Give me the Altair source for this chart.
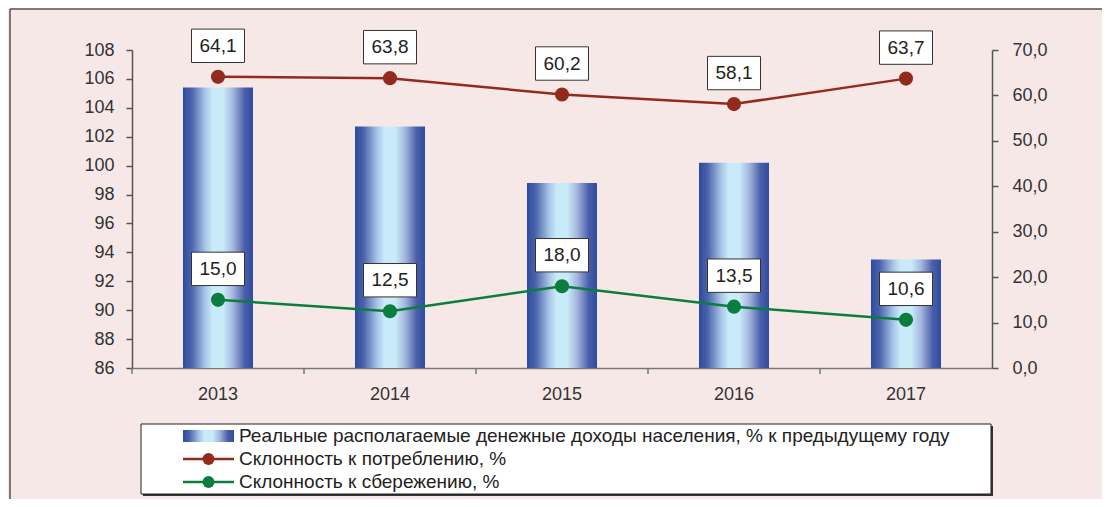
import altair as alt
import pandas as pd

years = ["2013", "2014", "2015", "2016", "2017"]
income = [105.4, 102.7, 98.8, 100.2, 93.5]
consumption = [64.1, 63.8, 60.2, 58.1, 63.7]
savings = [15.0, 12.5, 18.0, 13.5, 10.6]
legend_labels = [
    "Реальные располагаемые денежные доходы населения, % к предыдущему году",
    "Склонность к потреблению, %",
    "Склонность к сбережению, %",
]
left_ticks = list(range(86, 109, 2))
right_ticks = list(range(0, 71, 10))

def fmt(v):
    return f"{v:.1f}".replace(".", ",")

df = pd.DataFrame({"year": years, "income": income, "cons": consumption, "sav": savings})
df["cons_lbl"] = [fmt(v) for v in consumption]
df["sav_lbl"] = [fmt(v) for v in savings]
one = pd.DataFrame({"k": [0]})

W, H = 860, 318
FONT = "Liberation Sans"
RED = "#922b1e"
GREEN = "#0b7d3e"
TXT = "#333333"
AX = "#555555"

grad = alt.Gradient(
    gradient="linear", x1=0, x2=1, y1=0, y2=0,
    stops=[
        alt.GradientStop(offset=0.0, color="#2d4b9e"),
        alt.GradientStop(offset=0.12, color="#4a62aa"),
        alt.GradientStop(offset=0.32, color="#a9c6e8"),
        alt.GradientStop(offset=0.42, color="#c8eaf9"),
        alt.GradientStop(offset=0.58, color="#c8eaf9"),
        alt.GradientStop(offset=0.72, color="#a3b4dc"),
        alt.GradientStop(offset=0.88, color="#4a5fab"),
        alt.GradientStop(offset=1.0, color="#2f4c9f"),
    ],
)

xenc = alt.X(
    "year:N",
    sort=years,
    scale=alt.Scale(paddingInner=0, paddingOuter=0),
    axis=alt.Axis(title=None, labelAngle=0, ticks=False, domainColor="#777777",
                  domainWidth=1.5, labelFontSize=18, labelColor=TXT, labelFont=FONT,
                  labelPadding=17),
)

bars = alt.Chart(df).mark_bar(size=70, fill=grad, clip=True).encode(
    x=xenc,
    y=alt.Y("income:Q", scale=alt.Scale(domain=[86, 108], nice=False, zero=False),
            axis=alt.Axis(orient="left", title=None, values=left_ticks, grid=False,
                          domain=True, domainColor=AX, domainWidth=1.5, tickColor=AX,
                          tickSize=6, tickWidth=1.5, labelFontSize=18, labelColor=TXT,
                          labelFont=FONT, labelPadding=12)),
    y2=alt.value(H),
)

xticks = alt.Chart(df).mark_rule(color="#777777", strokeWidth=1.5).encode(
    x=alt.X("year:N", sort=years, bandPosition=0),
    y=alt.value(H), y2=alt.value(H + 6),
)

yR = dict(
    scale=alt.Scale(domain=[0, 70], nice=False),
    axis=alt.Axis(orient="right", title=None, values=right_ticks, grid=False,
                  domainColor=AX, domainWidth=1.5, tickColor=AX, tickSize=6,
                  tickWidth=1.5, labelFontSize=18, labelColor=TXT, labelFont=FONT,
                  labelPadding=14,
                  labelExpr="replace(format(datum.value, '.1f'), '.', ',')"),
)

BOX = "M-1,-0.63L1,-0.63L1,0.63L-1,0.63Z"

def series(field, lbl, color):
    base = alt.Chart(df).encode(x=alt.X("year:N", sort=years), y=alt.Y(f"{field}:Q", **yR))
    line = base.mark_line(color=color, strokeWidth=2.5)
    pts = base.mark_circle(color=color, size=200, opacity=1)
    box = base.mark_point(shape=BOX, filled=True, fill="white", stroke="#333333",
                          strokeWidth=1, size=53 * 53, opacity=1, yOffset=-31)
    txt = base.mark_text(fontSize=19, color="#222222", font=FONT, yOffset=-31,
                         baseline="middle").encode(text=f"{lbl}:N")
    return [line, pts, box, txt]

lines = alt.layer(*series("cons", "cons_lbl", RED), *series("sav", "sav_lbl", GREEN))

# frame and legend decorations
frame_left = alt.Chart(one).mark_rule(color="#555555", strokeWidth=1.5).encode(
    x=alt.value(-122), y=alt.value(-41), y2=alt.value(470))
frame_top = alt.Chart(one).mark_rule(color="#555555", strokeWidth=1.5).encode(
    x=alt.value(-122), x2=alt.value(990), y=alt.value(-41))
shadow = alt.Chart(one).mark_rect(fill="#333333").encode(
    x=alt.value(11), x2=alt.value(861), y=alt.value(376), y2=alt.value(446))
lbox = alt.Chart(one).mark_rect(fill="white", stroke="#222222", strokeWidth=1).encode(
    x=alt.value(9), x2=alt.value(859), y=alt.value(374), y2=alt.value(444))
sw_bar = alt.Chart(one).mark_rect(fill=grad).encode(
    x=alt.value(51), x2=alt.value(102), y=alt.value(380), y2=alt.value(392))
legend_layers = [shadow, lbox, sw_bar]
for ypix, col in [(409, RED), (432, GREEN)]:
    legend_layers.append(alt.Chart(one).mark_rule(color=col, strokeWidth=2.5).encode(
        x=alt.value(51), x2=alt.value(102), y=alt.value(ypix)))
    legend_layers.append(alt.Chart(one).mark_circle(color=col, size=140, opacity=1).encode(
        x=alt.value(76.5), y=alt.value(ypix)))
for ypix, lab in zip([386, 409, 432], legend_labels):
    legend_layers.append(alt.Chart(one).mark_text(
        align="left", baseline="middle", fontSize=19, font=FONT, color="#222222").encode(
        x=alt.value(107), y=alt.value(ypix), text=alt.value(lab)))

chart = alt.layer(
    frame_left, frame_top,
    alt.layer(bars, xticks),
    lines,
    *legend_layers,
).resolve_scale(y="independent").properties(
    width=W, height=H,
    background="#f7e8e8",
    padding={"left": 124, "top": 42, "right": 110, "bottom": 131},
    autosize=alt.AutoSizeParams(type="none"),
).configure_view(stroke=None)

chart.save("out.html", embed_options={"renderer": "svg", "actions": False})
